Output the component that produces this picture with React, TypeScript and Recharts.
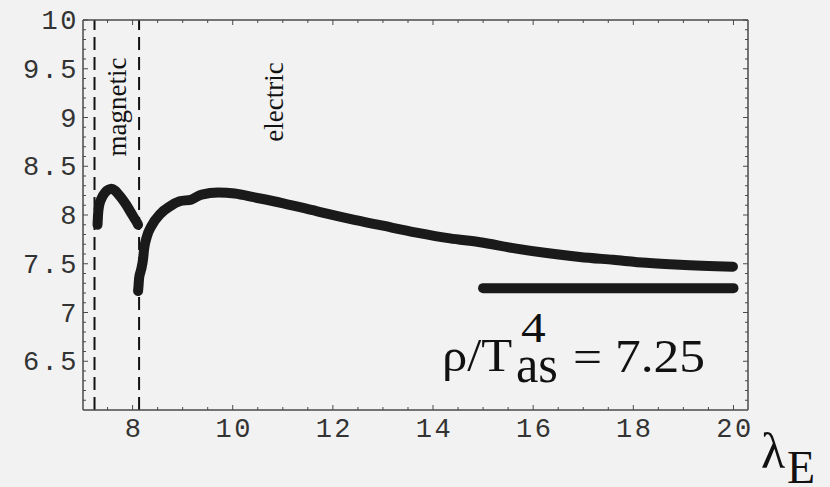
import { LineChart, Line, XAxis, YAxis, ReferenceLine } from "recharts"

// axis ticks (Mathematica-style frame, ticks on all four sides)
const xMajorTicks = [8, 10, 12, 14, 16, 18, 20]
const xMinorTicks = [7.5, 8.5, 9, 9.5, 10.5, 11, 11.5, 12.5, 13, 13.5, 14.5, 15, 15.5, 16.5, 17, 17.5, 18.5, 19, 19.5]
const yMajorTicks = [6.5, 7, 7.5, 8, 8.5, 9, 9.5, 10]
const yMinorTicks = [6.1, 6.2, 6.3, 6.4, 6.6, 6.7, 6.8, 6.9, 7.1, 7.2, 7.3, 7.4, 7.6, 7.7, 7.8, 7.9, 8.1, 8.2, 8.3, 8.4, 8.6, 8.7, 8.8, 8.9, 9.1, 9.2, 9.3, 9.4, 9.6, 9.7, 9.8, 9.9]

// magnetic branch
const magneticX = [7.3, 7.31, 7.33, 7.38, 7.45, 7.52, 7.58, 7.65, 7.72, 7.8, 7.88, 7.95, 8.02, 8.08, 8.11]
const magneticY = [7.9, 8.0, 8.09, 8.17, 8.23, 8.26, 8.27, 8.25, 8.21, 8.16, 8.1, 8.04, 7.98, 7.93, 7.9]

// electric branch
const electricX = [8.11, 8.12, 8.13, 8.16, 8.18, 8.21, 8.23, 8.28, 8.38, 8.55, 8.75, 8.94, 9.18, 9.38, 9.71, 10.04, 10.44, 11.01, 11.67, 12.34, 13.0, 13.67, 14.34, 14.94, 15.6, 16.27, 16.93, 17.6, 18.26, 18.93, 19.99]
const electricY = [7.22, 7.28, 7.35, 7.42, 7.46, 7.55, 7.65, 7.77, 7.89, 8.01, 8.09, 8.14, 8.16, 8.21, 8.23, 8.22, 8.18, 8.12, 8.04, 7.96, 7.89, 7.82, 7.76, 7.72, 7.66, 7.61, 7.57, 7.54, 7.51, 7.49, 7.47]

// rho/T^4 = 7.25 level
const levelX = [15, 20]
const levelY = [7.25, 7.25]

// dashed region boundaries
const regionBounds = [7.24, 8.13]

const zip = (xs: number[], ys: number[]) => xs.map((x, i) => ({ x, v: ys[i] }))

const FRAME = "#4a4a4a"
const INK = "#1a1a1a"
const monoFont = "Liberation Mono, DejaVu Sans Mono, monospace"
const serifFont = "Liberation Serif, DejaVu Serif, serif"
const xTicks = [...xMinorTicks, ...xMajorTicks].sort((a, b) => a - b)
const yTicks = [...yMinorTicks, ...yMajorTicks].sort((a, b) => a - b)

const tickText = { fontFamily: monoFont, fontSize: 27, fill: "#333", letterSpacing: 2.5 }
const serifText = { fontFamily: serifFont, fill: "#111" }

function BottomTick({ x, y, payload }: any) {
  const major = xMajorTicks.includes(payload.value)
  return (
    <g>
      <line x1={x} x2={x} y1={y} y2={y - (major ? 5 : 3)} stroke={FRAME} />
      {major && (
        <text x={x + 1.5} y={y + 27} textAnchor="middle" style={tickText}>
          {payload.value}
        </text>
      )}
    </g>
  )
}

function TopTick({ x, y, payload }: any) {
  const major = xMajorTicks.includes(payload.value)
  return <line x1={x} x2={x} y1={y} y2={y + (major ? 5 : 3)} stroke={FRAME} />
}

function LeftTick({ x, y, payload }: any) {
  const major = yMajorTicks.includes(payload.value)
  return (
    <g>
      <line x1={x} x2={x + (major ? 5 : 3)} y1={y} y2={y} stroke={FRAME} />
      {major && (
        <text x={x - 4} y={y + 9} textAnchor="end" style={tickText}>
          {payload.value}
        </text>
      )}
    </g>
  )
}

function RightTick({ x, y, payload }: any) {
  const major = yMajorTicks.includes(payload.value)
  return <line x1={x} x2={x - (major ? 5 : 3)} y1={y} y2={y} stroke={FRAME} />
}

export default function App() {
  return (
    <div style={{ position: "absolute", left: 0, top: 0, width: 830, height: 487, background: "#f2f2f2" }}>
      <LineChart width={830} height={487} margin={{ top: 19, right: 81, bottom: 47, left: 0 }}>
        <XAxis xAxisId="b" dataKey="x" type="number" domain={[7.01, 20.29]} ticks={xTicks} interval={0}
          tick={<BottomTick />} tickSize={0} tickMargin={0} tickLine={false} height={30}
          axisLine={{ stroke: FRAME, strokeWidth: 1.5 }} allowDataOverflow />
        <XAxis xAxisId="t" orientation="top" dataKey="x" type="number" domain={[7.01, 20.29]} ticks={xTicks} interval={0}
          tick={<TopTick />} tickSize={0} tickMargin={0} tickLine={false} height={1}
          axisLine={{ stroke: FRAME, strokeWidth: 1.5 }} allowDataOverflow />
        <YAxis yAxisId="l" type="number" domain={[6, 10]} ticks={yTicks} interval={0}
          tick={<LeftTick />} tickSize={0} tickMargin={0} tickLine={false} width={83}
          axisLine={{ stroke: FRAME, strokeWidth: 1.5 }} allowDataOverflow />
        <YAxis yAxisId="r" orientation="right" type="number" domain={[6, 10]} ticks={yTicks} interval={0}
          tick={<RightTick />} tickSize={0} tickMargin={0} tickLine={false} width={1}
          axisLine={{ stroke: FRAME, strokeWidth: 1.5 }} allowDataOverflow />

        {regionBounds.map((b) => (
          <ReferenceLine key={b} x={b} xAxisId="b" yAxisId="l" stroke="#111" strokeWidth={2} strokeDasharray="13 7" />
        ))}

        <Line xAxisId="b" yAxisId="l" data={zip(magneticX, magneticY)} dataKey="v" type="monotone"
          stroke={INK} strokeWidth={10} strokeLinecap="round" strokeLinejoin="round" dot={false} activeDot={false}
          isAnimationActive={false} />
        <Line xAxisId="b" yAxisId="l" data={zip(electricX, electricY)} dataKey="v" type="monotone"
          stroke={INK} strokeWidth={10} strokeLinecap="round" strokeLinejoin="round" dot={false} activeDot={false}
          isAnimationActive={false} />
        <Line xAxisId="b" yAxisId="l" data={zip(levelX, levelY)} dataKey="v" type="linear"
          stroke={INK} strokeWidth={10} strokeLinecap="round" dot={false} activeDot={false}
          isAnimationActive={false} />
      </LineChart>

      <svg width={830} height={487} style={{ position: "absolute", left: 0, top: 0, pointerEvents: "none" }}>
        <text transform="translate(126,107) rotate(-90)" textAnchor="middle" style={{ ...serifText, fontSize: 27 }}>
          magnetic
        </text>
        <text transform="translate(283,102) rotate(-90)" textAnchor="middle" style={{ ...serifText, fontSize: 27 }}>
          electric
        </text>
        <text transform="translate(442,371) scale(1.1,1)" style={{ ...serifText, fontSize: 46 }}>ρ/T</text>
        <text transform="translate(516,382) scale(1.05,1.12)" style={{ ...serifText, fontSize: 48 }}>as</text>
        <text transform="translate(521,342) scale(1.15,1)" style={{ ...serifText, fontSize: 43 }}>4</text>
        <text transform="translate(573,372) scale(1.12,1)" style={{ ...serifText, fontSize: 46 }}>= 7.25</text>
        <text x={761} y={468} style={{ ...serifText, fontSize: 50 }}>λ</text>
        <text x={787} y={483} style={{ ...serifText, fontSize: 46 }}>E</text>
      </svg>
    </div>
  )
}
